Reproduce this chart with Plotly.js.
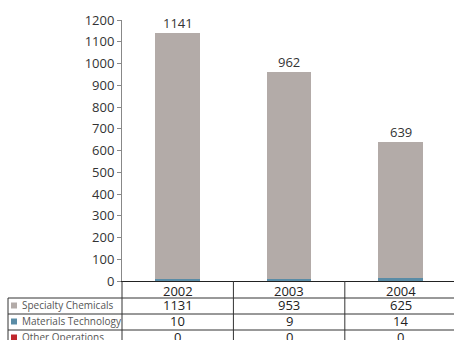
<!DOCTYPE html>
<html>
<head>
<meta charset="utf-8">
<script src="https://cdn.plot.ly/plotly-3.0.1.min.js"></script>
<style>html,body{margin:0;padding:0;background:#fff;}#chart{width:454px;height:340px;}</style>
</head>
<body>
<div id="chart"></div>
<script>
const categories = ['2002', '2003', '2004'];
const seriesNames = ['Specialty Chemicals', 'Materials Technology', 'Other Operations'];
const specialtyChemicals = [1131, 953, 625];
const materialsTechnology = [10, 9, 14];
const otherOperations = [0, 0, 0];
const seriesColors = ['#b3aba8', '#5a8ca6', '#c0272d'];
const yTicks = [0, 100, 200, 300, 400, 500, 600, 700, 800, 900, 1000, 1100, 1200];

const seriesValues = [specialtyChemicals, materialsTechnology, otherOperations];
const xIdx = categories.map((c, i) => i);

const W = 454, H = 340, ML = 122, MT = 20, MB = 59;
const plotH = H - MT - MB, plotW = W - ML;
const py = p => (H - MB - p) / plotH;   // pixel y -> paper y
const px = p => (p - ML) / plotW;       // pixel x -> paper x

// stack from the bottom: Other Operations, Materials Technology, Specialty Chemicals on top
const traces = seriesNames.map((name, s) => ({
  type: 'bar', name: name, x: xIdx, y: seriesValues[s],
  width: 0.4, marker: {color: seriesColors[s], line: {width: 0}},
  hoverinfo: 'skip'
})).reverse();

const totals = xIdx.map(i => seriesValues.reduce((a, arr) => a + arr[i], 0));
const fontFam = '"Open Sans", "DejaVu Sans", sans-serif';

const annotations = [];
totals.forEach((t, i) => annotations.push({
  x: i, y: t, xref: 'x', yref: 'y', text: String(t), showarrow: false,
  yanchor: 'bottom', yshift: -1, font: {family: fontFam, size: 13, color: '#333'}
}));
// header row
const rowCenters = [290.5, 304.5, 320.5, 336.5];
categories.forEach((c, i) => annotations.push({
  x: i, y: py(rowCenters[0]), xref: 'x', yref: 'paper', text: c, showarrow: false,
  yanchor: 'middle', font: {family: fontFam, size: 13, color: '#222'}
}));
const shapes = [];
seriesNames.forEach((name, s) => {
  const yc = rowCenters[s + 1];
  annotations.push({
    x: px(20), y: py(yc), xref: 'paper', yref: 'paper', text: name, showarrow: false,
    xanchor: 'left', yanchor: 'middle', font: {family: fontFam, size: 10, color: '#555'}
  });
  shapes.push({type: 'rect', xref: 'paper', yref: 'paper',
    x0: px(11), x1: px(17), y0: py(yc + 4), y1: py(yc - 2),
    fillcolor: seriesColors[s], line: {width: 0}});
  seriesValues[s].forEach((v, i) => annotations.push({
    x: i, y: py(yc), xref: 'x', yref: 'paper', text: String(v), showarrow: false,
    yanchor: 'middle', font: {family: fontFam, size: 13, color: '#222'}
  }));
});
// table grid lines
const lineStyle = {color: '#333', width: 1};
[298, 314, 330].forEach(p => shapes.push({type: 'line', xref: 'paper', yref: 'paper',
  x0: px(8), x1: 1, y0: py(p), y1: py(p), line: lineStyle}));
shapes.push({type: 'line', xref: 'paper', yref: 'paper', x0: px(8), x1: px(8), y0: py(298), y1: py(345), line: lineStyle});
shapes.push({type: 'line', xref: 'paper', yref: 'paper', x0: 0, x1: 0, y0: 0, y1: py(345), line: lineStyle});
[0.5, 1.5].forEach(b => shapes.push({type: 'line', xref: 'x', yref: 'paper', x0: b, x1: b, y0: 0, y1: py(345), line: lineStyle}));

const layout = {
  width: W, height: H,
  margin: {l: ML, r: 0, t: MT, b: MB, pad: 0},
  paper_bgcolor: '#fff', plot_bgcolor: '#fff',
  barmode: 'stack', showlegend: false,
  font: {family: fontFam, color: '#333'},
  xaxis: {range: [-0.5, 2.48], showticklabels: false, showgrid: false, zeroline: false,
    showline: true, linecolor: '#222', linewidth: 1, ticks: '', fixedrange: true},
  yaxis: {range: [0, 1200], tickvals: yTicks, ticktext: yTicks.map(String), showgrid: false, zeroline: false,
    showline: true, linecolor: '#888', linewidth: 1, ticks: 'outside', ticklen: 4, tickcolor: '#888',
    tickfont: {family: fontFam, size: 13, color: '#333'}, fixedrange: true},
  annotations: annotations, shapes: shapes
};
Plotly.newPlot('chart', traces, layout, {displayModeBar: false, staticPlot: true});
</script>
</body>
</html>
